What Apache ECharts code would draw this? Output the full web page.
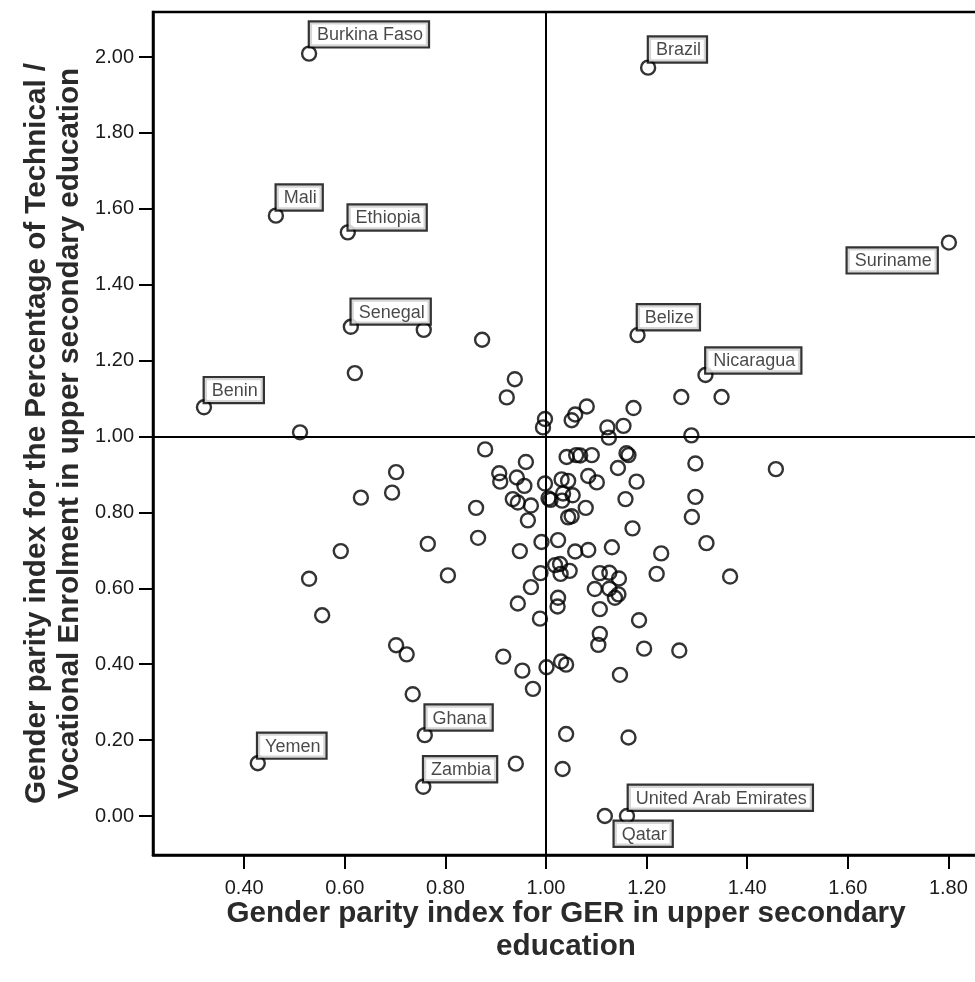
<!DOCTYPE html>
<html><head><meta charset="utf-8">
<script src="https://cdn.jsdelivr.net/npm/echarts@6/dist/echarts.min.js"></script>
<style>html,body{margin:0;padding:0;background:#fff}#c{width:975px;height:982px}</style>
</head><body><div id="c"></div><script>
const xTicks = [0.4, 0.6, 0.8, 1.0, 1.2, 1.4, 1.6, 1.8];
const yTicks = [0.0, 0.2, 0.4, 0.6, 0.8, 1.0, 1.2, 1.4, 1.6, 1.8, 2.0];

const labeledNames = ['Burkina Faso','Mali','Ethiopia','Senegal','Benin','Brazil','Suriname','Belize','Nicaragua','Ghana','Yemen','Zambia','United Arab Emirates','Qatar'];
const labeledGER = [0.529, 0.463, 0.606, 0.612, 0.320, 1.203, 1.801, 1.182, 1.317, 0.759, 0.427, 0.756, 1.161, 1.117];
const labeledTVE = [2.009, 1.582, 1.538, 1.289, 1.077, 1.972, 1.511, 1.267, 1.162, 0.213, 0.139, 0.077, 0.000, 0.000];

const otherGER = [0.757,0.873,0.620,0.938,0.922,0.511,0.998,0.994,1.051,1.058,1.081,1.122,1.125,1.154,1.174,1.269,1.349,1.289,
0.879,0.960,0.702,0.907,0.909,0.942,0.957,0.998,0.694,0.632,0.934,0.944,0.970,0.861,0.964,0.865,0.765,0.592,0.948,0.529,0.805,
0.989,0.970,0.944,0.988,0.555,0.702,0.723,0.915,1.001,0.953,0.974,0.735,0.940,1.040,1.164,1.033,1.030,1.040,1.147,1.107,1.104,
1.195,1.265,1.185,1.107,1.097,1.126,1.144,1.137,1.024,1.023,1.107,1.126,1.145,1.220,1.366,1.018,1.028,1.029,1.047,0.991,1.024,
1.058,1.084,1.131,1.229,1.319,1.172,1.290,1.297,1.297,1.457,1.079,1.158,1.044,1.051,1.005,1.009,1.034,1.053,1.032,1.031,1.044,
1.084,1.101,1.180,1.143,1.041,1.060,1.068,1.091,1.160,1.164];
const otherTVE = [1.281,1.255,1.167,1.151,1.103,1.011,1.046,1.024,1.043,1.058,1.079,1.024,0.997,1.028,1.075,1.104,1.104,1.003,
0.966,0.933,0.906,0.903,0.881,0.892,0.870,0.876,0.852,0.839,0.835,0.826,0.818,0.812,0.779,0.733,0.717,0.698,0.698,0.625,0.634,
0.640,0.603,0.560,0.520,0.529,0.450,0.426,0.420,0.392,0.383,0.335,0.321,0.138,0.216,0.207,0.124,0.407,0.399,0.372,0.480,0.451,
0.441,0.436,0.516,0.545,0.598,0.599,0.584,0.575,0.575,0.552,0.640,0.641,0.626,0.638,0.631,0.661,0.664,0.638,0.646,0.722,0.727,
0.697,0.701,0.708,0.692,0.719,0.758,0.788,0.841,0.929,0.914,0.812,0.835,0.787,0.790,0.837,0.833,0.850,0.845,0.831,0.887,0.883,
0.896,0.879,0.881,0.917,0.946,0.951,0.950,0.951,0.956,0.951];

const xTitle = 'Gender parity index for GER in upper secondary\neducation';
const yTitle = 'Gender parity index for the Percentage of Technical /\nVocational Enrolment in upper secondary education';

// label placement styles (offsets relative to the symbol box)
const SYM = 14;
const labelPlace = {
  'Burkina Faso': [9, 1, 'left', 'bottom'],
  'Mali': [9, 2, 'left', 'bottom'],
  'Ethiopia': [9, 5.4, 'left', 'bottom'],
  'Senegal': [9, 5, 'left', 'bottom'],
  'Benin': [9, 3, 'left', 'bottom'],
  'Brazil': [9, 2, 'left', 'bottom'],
  'Suriname': [-4, 14, 'right', 'top'],
  'Belize': [8.5, 2.3, 'left', 'bottom'],
  'Nicaragua': [9, 5.7, 'left', 'bottom'],
  'Ghana': [9, 2.6, 'left', 'bottom'],
  'Yemen': [8.5, 2.6, 'left', 'bottom'],
  'Zambia': [9, 2.6, 'left', 'bottom'],
  'United Arab Emirates': [10, 2, 'left', 'bottom'],
  'Qatar': [18, 14, 'left', 'top']
};

const FONT = '"Liberation Sans", Arial, sans-serif';

const labeledData = labeledNames.map((n, i) => {
  const p = labelPlace[n];
  return {
    name: n,
    value: [labeledGER[i], labeledTVE[i]],
    label: { show: true, position: [p[0], p[1]], align: p[2], verticalAlign: p[3] }
  };
});
const otherData = otherGER.map((x, i) => [x, otherTVE[i]]);

const xMin = 1 - 393 / 503, xMax = xMin + 826 / 503;
const yMin = -39 / 379.5, yMax = 804 / 379.5;

const chart = echarts.init(document.getElementById('c'), null, { renderer: 'canvas' });
const circleStyle = { color: 'rgba(255,255,255,0)', borderColor: '#000', borderWidth: 2.4 };
chart.setOption({
  animation: false,
  backgroundColor: '#fff',
  grid: { left: 153, top: 12, right: -4, bottom: 127, containLabel: false, outerBoundsMode: 'none',
          show: true, borderColor: '#000', borderWidth: 2.5, backgroundColor: 'transparent' },
  xAxis: {
    type: 'value', min: xMin, max: xMax,
    splitLine: { show: false },
    axisLine: { show: true, onZero: false, lineStyle: { color: '#000', width: 2.5 } },
    axisTick: { show: true, customValues: xTicks, length: 14, inside: false, lineStyle: { color: '#000', width: 2 } },
    axisLabel: { customValues: xTicks, formatter: v => v.toFixed(2), margin: 23, fontSize: 20, color: '#1a1a1a', fontFamily: FONT },
    name: xTitle, nameLocation: 'middle', nameGap: 42.5, nameMoveOverlap: false,
    nameTextStyle: { fontSize: 29.6, fontWeight: 'bold', color: '#2a2a2a', fontFamily: FONT, lineHeight: 33 }
  },
  yAxis: {
    type: 'value', min: yMin, max: yMax,
    splitLine: { show: false },
    axisLine: { show: true, onZero: false, lineStyle: { color: '#000', width: 2.5 } },
    axisTick: { show: true, customValues: yTicks, length: 14, inside: false, lineStyle: { color: '#000', width: 2 } },
    axisLabel: { customValues: yTicks, formatter: v => v.toFixed(2), margin: 19, fontSize: 20, color: '#1a1a1a', fontFamily: FONT },
    name: yTitle, nameLocation: 'middle', nameGap: 66.5, nameMoveOverlap: false,
    nameTextStyle: { fontSize: 29.6, fontWeight: 'bold', color: '#2a2a2a', fontFamily: FONT, lineHeight: 33 }
  },
  series: [
    {
      type: 'scatter', symbol: 'circle', symbolSize: SYM, itemStyle: circleStyle,
      data: otherData, silent: true,
      markLine: {
        silent: true, symbol: ['none', 'none'], animation: false,
        label: { show: false },
        lineStyle: { color: '#000', width: 2, type: 'solid' },
        data: [{ xAxis: 1 }, { yAxis: 1 }]
      }
    },
    {
      type: 'scatter', symbol: 'circle', symbolSize: SYM, itemStyle: circleStyle,
      data: labeledData, silent: true,
      label: {
        show: true, formatter: '{b}', fontSize: 18, color: '#1a1a1a', fontFamily: FONT,
        backgroundColor: '#fff', borderColor: '#000', borderWidth: 2.2, padding: [4, 5, 2, 7]
      },
      labelLayout: { hideOverlap: false }
    }
  ]
});
</script></body></html>
